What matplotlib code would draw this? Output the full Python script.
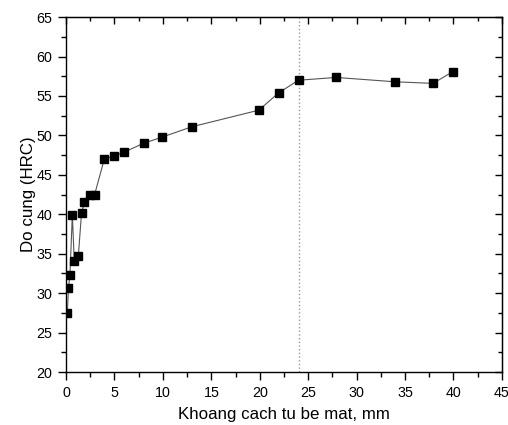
import matplotlib
matplotlib.use("Agg")
import matplotlib.pyplot as plt
from matplotlib.ticker import MultipleLocator

plt.rcParams['font.family'] = ['Liberation Sans', 'DejaVu Sans']

distance_mm = [0.13, 0.25, 0.4, 0.65, 0.85, 1.27, 1.6, 1.9, 2.5, 2.95,
               3.95, 4.95, 5.95, 8.0, 9.95, 13.0, 19.9, 21.95, 24.0,
               27.9, 33.95, 37.9, 39.9]
hardness_hrc = [27.5, 30.6, 32.3, 39.9, 34.1, 34.7, 40.2, 41.5, 42.5, 42.5,
                47.0, 47.4, 47.85, 49.0, 49.8, 51.1, 53.2, 55.4, 57.0,
                57.35, 56.8, 56.6, 58.07]
marker_line_x = 24
x_label = "Khoang cach tu be mat, mm"
y_label = "Do cung (HRC)"

fig = plt.figure(figsize=(5.08, 4.25), dpi=100)
ax = fig.add_axes([0.130, 0.1247, 0.858, 0.835])

ax.axvline(marker_line_x, color='#999999', linestyle=':', linewidth=1.0, zorder=1)
ax.plot(distance_mm, hardness_hrc, color='#555555', linewidth=0.8,
        marker='s', markersize=5.5, markerfacecolor='black',
        markeredgecolor='black', zorder=3)

ax.set_xlim(0, 45)
ax.set_ylim(20, 65)
ax.xaxis.set_major_locator(MultipleLocator(5))
ax.xaxis.set_minor_locator(MultipleLocator(2.5))
ax.yaxis.set_major_locator(MultipleLocator(5))
ax.yaxis.set_minor_locator(MultipleLocator(2.5))

for s in ax.spines.values():
    s.set_linewidth(1.0)

ax.tick_params(which='both', direction='out', top=False, right=False,
               labelsize=10.3, colors='black', width=1.0)
ax.tick_params(which='major', length=6, pad=4)
ax.tick_params(which='minor', length=3.5)

# mirrored inward ticks on top and right
ax_top = ax.secondary_xaxis('top')
ax_top.xaxis.set_major_locator(MultipleLocator(5))
ax_top.xaxis.set_minor_locator(MultipleLocator(2.5))
ax_top.tick_params(which='both', direction='in', labeltop=False, width=1.0)
ax_top.tick_params(which='major', length=5)
ax_top.tick_params(which='minor', length=3)
ax_right = ax.secondary_yaxis('right')
ax_right.yaxis.set_major_locator(MultipleLocator(5))
ax_right.yaxis.set_minor_locator(MultipleLocator(2.5))
ax_right.tick_params(which='both', direction='in', labelright=False, width=1.0)
ax_right.tick_params(which='major', length=5)
ax_right.tick_params(which='minor', length=3)

ax.set_xlabel(x_label, fontsize=12.2, labelpad=5)
ax.set_ylabel(y_label, fontsize=12.2, labelpad=0)

fig.savefig("out.png", dpi=100)
